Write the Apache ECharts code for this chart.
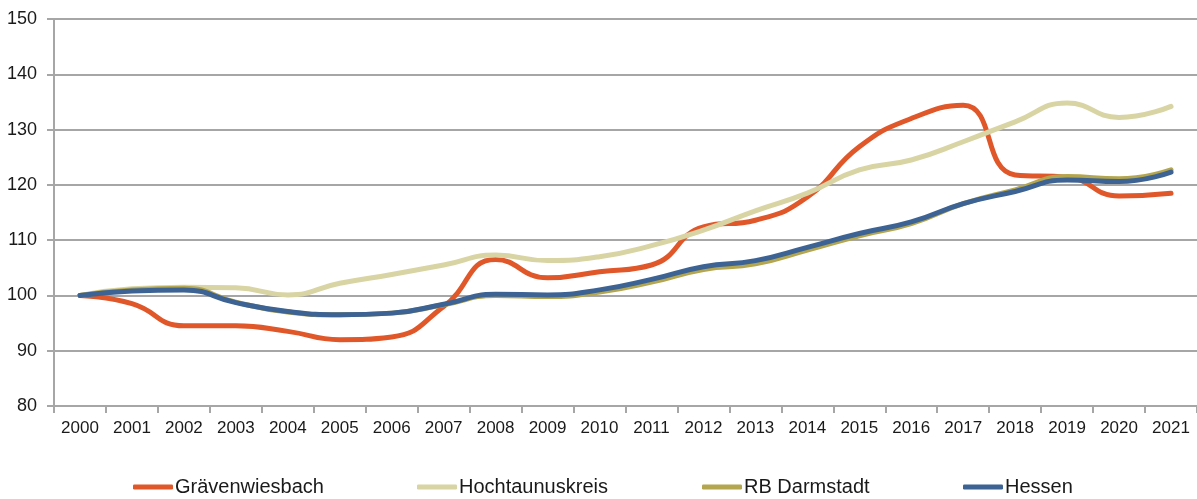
<!DOCTYPE html>
<html>
<head>
<meta charset="utf-8">
<script src="https://cdn.jsdelivr.net/npm/echarts@6/dist/echarts.min.js"></script>
<style>
  html, body { margin: 0; padding: 0; background: #ffffff; }
  #chart { width: 1197px; height: 499px; }
</style>
</head>
<body>
<div id="chart"></div>
<script>
// Index of development, 2000 = 100
const years = ['2000','2001','2002','2003','2004','2005','2006','2007','2008','2009','2010',
               '2011','2012','2013','2014','2015','2016','2017','2018','2019','2020','2021'];

const graevenwiesbach = [100, 98.5, 94.5, 94.5, 93.5, 92, 92.5, 98, 106.5, 103.2, 104.3,
                         105.5, 112.4, 113.6, 117.8, 126.9, 132, 134.4, 121.8, 121.4, 118, 118.5];
const hochtaunuskreis = [100, 101.2, 101.5, 101.4, 100.1, 102.2, 103.8, 105.5, 107.3, 106.3, 107,
                         109, 111.8, 115.3, 118.5, 122.7, 124.5, 127.8, 131.4, 134.8, 132.2, 134.2];
const rbDarmstadt     = [100, 101, 101.3, 98.8, 97, 96.5, 96.8, 98.3, 100, 99.8, 100.6,
                         102.4, 104.7, 105.7, 108.2, 110.8, 113, 116.6, 119.1, 121.5, 121.1, 122.7];
const hessen          = [100, 100.8, 101, 98.7, 97.1, 96.5, 96.8, 98.4, 100.2, 100.1, 101,
                         102.9, 105.2, 106.3, 108.7, 111.2, 113.3, 116.6, 118.8, 120.9, 120.6, 122.3];

const yTicks = { min: 80, max: 150, step: 10 };

const seriesDefs = [
  { name: 'Grävenwiesbach',  data: graevenwiesbach, color: '#E0572A', legendLeft: 133 },
  { name: 'Hochtaunuskreis', data: hochtaunuskreis, color: '#D9D4A3', legendLeft: 417 },
  { name: 'RB Darmstadt',    data: rbDarmstadt,     color: '#B4A64F', legendLeft: 702 },
  { name: 'Hessen',          data: hessen,          color: '#3C6394', legendLeft: 963 }
];

const fontFamily = '"Liberation Sans", Arial, sans-serif';
const chart = echarts.init(document.getElementById('chart'), null, { renderer: 'canvas' });

chart.setOption({
  animation: false,
  backgroundColor: '#ffffff',
  grid: { left: 54, right: 0, top: 19, bottom: 93 },
  legend: seriesDefs.map(s => ({
    data: [s.name],
    left: s.legendLeft,
    top: 477,
    icon: 'roundRect',
    itemWidth: 40,
    itemHeight: 5,
    padding: 0,
    selectedMode: false,
    textStyle: { fontFamily, fontSize: 20, color: '#1a1a1a', padding: [0, 0, 0, -3] }
  })),
  xAxis: {
    type: 'category',
    data: years,
    boundaryGap: true,
    axisLine: { lineStyle: { color: '#a6a6a6', width: 2 } },
    axisTick: { show: true, interval: 0, length: 7, lineStyle: { color: '#a6a6a6', width: 2 } },
    axisLabel: { interval: 0, margin: 14, fontFamily, fontSize: 17, color: '#1a1a1a' },
    splitLine: { show: false }
  },
  yAxis: {
    type: 'value',
    min: yTicks.min,
    max: yTicks.max,
    interval: yTicks.step,
    axisLine: { show: true, lineStyle: { color: '#a6a6a6', width: 2 } },
    axisTick: { show: true, length: 7, lineStyle: { color: '#a6a6a6', width: 2 } },
    axisLabel: { margin: 17, fontFamily, fontSize: 18, color: '#1a1a1a' },
    splitLine: { show: true, lineStyle: { color: '#a6a6a6', width: 2 } }
  },
  series: seriesDefs.map(s => ({
    name: s.name,
    type: 'line',
    data: s.data,
    smooth: 0.5,
    showSymbol: false,
    symbol: 'none',
    color: s.color,
    lineStyle: { color: s.color, width: 5, cap: 'round', join: 'round' }
  }))
});
</script>
</body>
</html>
